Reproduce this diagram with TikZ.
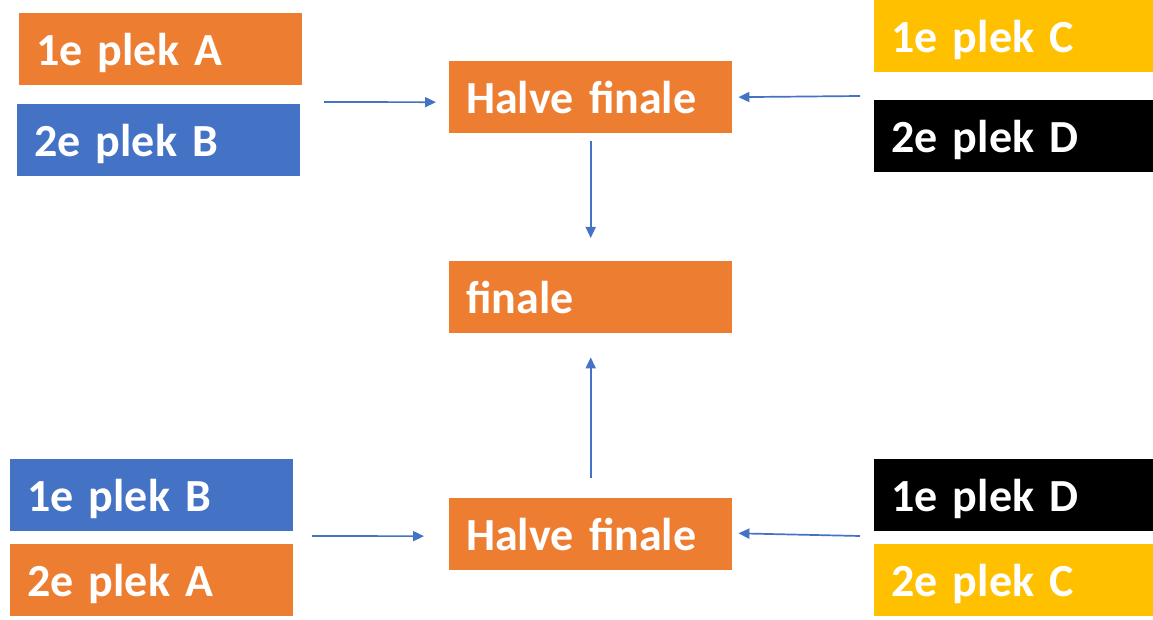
\documentclass[tikz,border=0pt]{standalone}
\usepackage{fontspec}
\setmainfont{Carlito}
\usetikzlibrary{arrows.meta}
\definecolor{cOrange}{HTML}{ED7D31}
\definecolor{cBlue}{HTML}{4472C4}
\definecolor{cYellow}{HTML}{FFC000}
\definecolor{cArrow}{HTML}{4472C4}
\tikzset{
  box/.style={rectangle, anchor=north west, inner xsep=17pt, inner ysep=0pt,
    text width=249pt, align=left, minimum height=72pt,
    text height=32pt, text depth=0pt, text=white,
    font=\fontsize{46}{46}\selectfont\bfseries},
  rbox/.style={box, text width=260pt},
  arr/.style={draw=cArrow, line width=1.7pt, -{Triangle[length=11pt,width=10pt]}},
}
\begin{document}
\begin{tikzpicture}[x=1pt,y=-1pt]
\clip (0,0) rectangle (1153,620);
\fill[white] (0,0) rectangle (1153,620);
% left top
\node[box, fill=cOrange] (a1) at (19,13) {1e plek A};
\node[box, fill=cBlue] (b2) at (17,104) {2e plek B};
% right top
\node[rbox, fill=cYellow] (c1) at (874,0) {1e plek C};
\node[rbox, fill=black] (d2) at (874,100) {2e plek D};
% centre
\node[box, fill=cOrange] (hf1) at (449,61) {Halve finale};
\node[box, fill=cOrange] (fin) at (449,261) {finale};
\node[box, fill=cOrange] (hf2) at (449,498) {Halve finale};
% left bottom
\node[box, fill=cBlue] (b1) at (10,459) {1e plek B};
\node[box, fill=cOrange] (a2) at (10,544) {2e plek A};
% right bottom
\node[rbox, fill=black] (d1) at (874,459) {1e plek D};
\node[rbox, fill=cYellow] (c2) at (874,544) {2e plek C};
% free ends
\coordinate (s1) at (324,102);
\coordinate (s2) at (860,96);
\coordinate (s3) at (312,536);
\coordinate (s4) at (860,536);
% connectors
\draw[arr, shorten >=13pt] (s1) -- ([yshift=-5pt]hf1.west);
\draw[arr, shorten >=6pt] (s2) -- (hf1.east);
\draw[arr, shorten <=8pt, shorten >=23pt] (hf1.south) -- (fin.north);
\draw[arr, shorten <=20pt, shorten >=24pt] (hf2.north) -- (fin.south);
\draw[arr, shorten >=25pt] (s3) -- ([yshift=-2pt]hf2.west);
\draw[arr, shorten >=6pt] (s4) -- ([yshift=1pt]hf2.east);
\end{tikzpicture}
\end{document}
